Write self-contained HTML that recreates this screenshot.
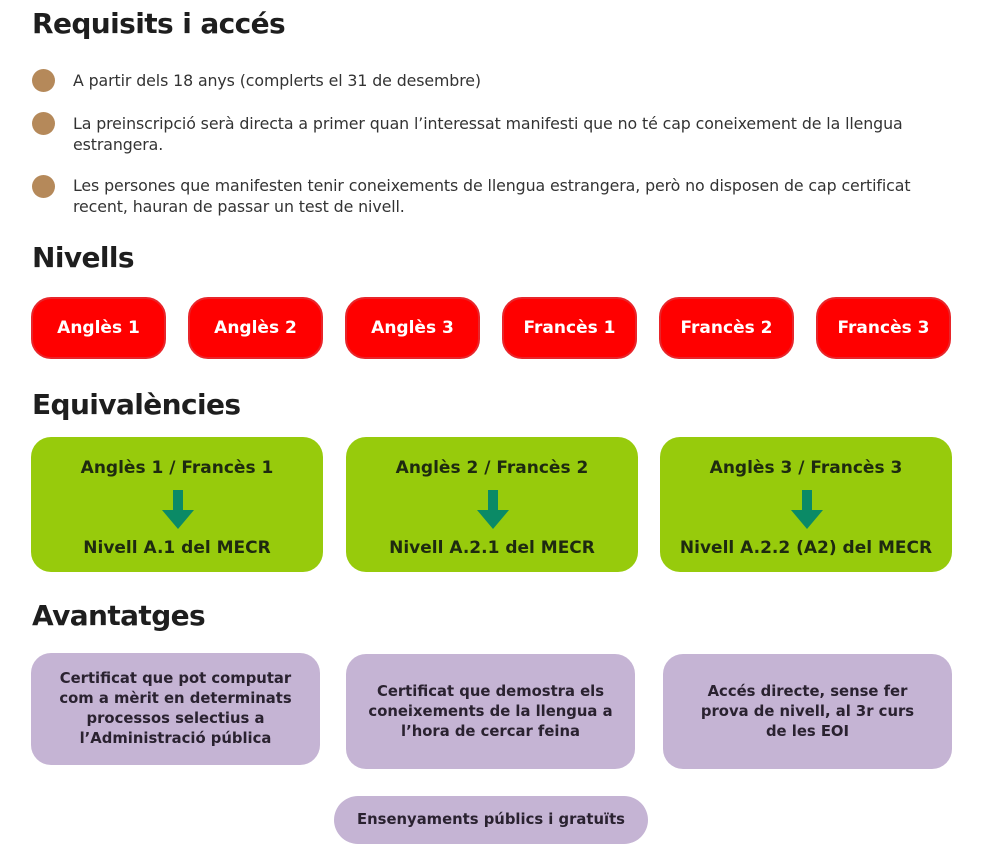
<!DOCTYPE html>
<html><head><meta charset="utf-8"><style>
*{margin:0;padding:0;box-sizing:border-box}
body{width:984px;height:863px;background:#fff;position:relative;overflow:hidden;font-family:"DejaVu Sans","Liberation Sans",sans-serif;color:#222}
h1{position:absolute;left:32px;font-size:28px;font-weight:bold;color:#1e1e1e;letter-spacing:-0.6px}
.dot{position:absolute;left:32px;width:23px;height:23px;border-radius:50%;background:#b5895a}
.t{position:absolute;left:73px;font-size:15.8px;line-height:21px;color:#333;white-space:nowrap;letter-spacing:-0.1px}
.red{position:absolute;top:297px;width:135px;height:62px;border-radius:20px;background:#ff0000;border:2px solid #e8252a;color:#fff;font-weight:bold;font-size:17px;display:flex;align-items:center;justify-content:center}
.g{position:absolute;top:437px;width:292px;height:135px;border-radius:20px;background:#97cb0c;text-align:center;font-weight:bold;font-size:17px;color:#1e2a10}
.g .l1{position:absolute;top:21px;left:0;right:0}
.g .l2{position:absolute;top:101px;left:0;right:0}
.g svg{position:absolute;top:53px;left:130px}
.p{position:absolute;border-radius:20px;background:#c5b4d4;font-weight:bold;font-size:14.8px;line-height:20px;color:#2a2230;display:flex;align-items:center;justify-content:center;text-align:center}
</style></head><body>
<h1 style="top:7px">Requisits i accés</h1>
<div class="dot" style="top:69px"></div>
<div class="t" style="top:70px">A partir dels 18 anys (complerts el 31 de desembre)</div>
<div class="dot" style="top:112px"></div>
<div class="t" style="top:113px">La preinscripció serà directa a primer quan l’interessat manifesti que no té cap coneixement de la llengua<br>estrangera.</div>
<div class="dot" style="top:175px"></div>
<div class="t" style="top:175px">Les persones que manifesten tenir coneixements de llengua estrangera, però no disposen de cap certificat<br>recent, hauran de passar un test de nivell.</div>
<h1 style="top:241px">Nivells</h1>
<div class="red" style="left:31px">Anglès 1</div>
<div class="red" style="left:188px">Anglès 2</div>
<div class="red" style="left:345px">Anglès 3</div>
<div class="red" style="left:502px">Francès 1</div>
<div class="red" style="left:659px">Francès 2</div>
<div class="red" style="left:816px">Francès 3</div>
<h1 style="top:388px">Equivalències</h1>
<div class="g" style="left:31px"><div class="l1">Anglès 1 / Francès 1</div><svg width="34" height="40" viewBox="0 0 34 40"><path d="M12 0H22V20H33L17 39L1 20H12Z" fill="#0b8a66"/></svg><div class="l2">Nivell A.1 del MECR</div></div>
<div class="g" style="left:346px"><div class="l1">Anglès 2 / Francès 2</div><svg width="34" height="40" viewBox="0 0 34 40"><path d="M12 0H22V20H33L17 39L1 20H12Z" fill="#0b8a66"/></svg><div class="l2">Nivell A.2.1 del MECR</div></div>
<div class="g" style="left:660px"><div class="l1">Anglès 3 / Francès 3</div><svg width="34" height="40" viewBox="0 0 34 40"><path d="M12 0H22V20H33L17 39L1 20H12Z" fill="#0b8a66"/></svg><div class="l2">Nivell A.2.2 (A2) del MECR</div></div>
<h1 style="top:599px">Avantatges</h1>
<div class="p" style="left:31px;top:653px;width:289px;height:112px">Certificat que pot computar<br>com a mèrit en determinats<br>processos selectius a<br>l’Administració pública</div>
<div class="p" style="left:346px;top:654px;width:289px;height:115px">Certificat que demostra els<br>coneixements de la llengua a<br>l’hora de cercar feina</div>
<div class="p" style="left:663px;top:654px;width:289px;height:115px">Accés directe, sense fer<br>prova de nivell, al 3r curs<br>de les EOI</div>
<div class="p" style="left:334px;top:796px;width:314px;height:48px;border-radius:24px">Ensenyaments públics i gratuïts</div>
</body></html>
